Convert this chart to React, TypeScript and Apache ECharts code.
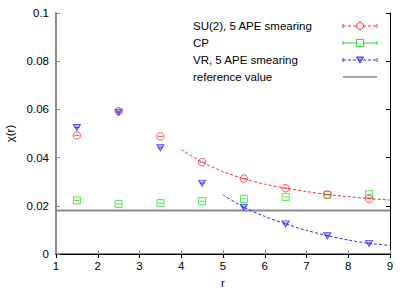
import React, { useEffect, useRef } from "react";
import * as echarts from "echarts";

const rValues = [1.5, 2.5, 3.5, 4.5, 5.5, 6.5, 7.5, 8.5];
const su2Values = [0.0492, 0.0592, 0.0488, 0.0381, 0.0313, 0.0273, 0.0247, 0.0229];
const cpValues = [0.0222, 0.0208, 0.0211, 0.0219, 0.0229, 0.0237, 0.0245, 0.0248];
const vrValues = [0.0525, 0.0588, 0.0441, 0.0294, 0.0194, 0.0125, 0.0076, 0.0044];
const referenceValue = 0.018;
const referenceRange = [1, 9];

const su2FitR = [4, 4.5, 5, 5.5, 6, 6.5, 7, 7.5, 8, 8.5, 9];
const su2FitValues = [0.0434, 0.0381, 0.0342, 0.0312, 0.029, 0.0273, 0.0259, 0.0247, 0.0238, 0.023, 0.0224];
const vrFitR = [5, 5.5, 6, 6.5, 7, 7.5, 8, 8.5, 9];
const vrFitValues = [0.0245, 0.0194, 0.0156, 0.0125, 0.0098, 0.0076, 0.0058, 0.0044, 0.0035];

const legendLabels = ["SU(2), 5 APE smearing", "CP", "VR, 5 APE smearing", "reference value"];
const xAxisTitle = "r";
const yAxisTitle = "χ(r)";

const RED = "#ff2a2a";
const GREEN = "#22e022";
const BLUE = "#2a2aff";
const GRAY = "#8a8a8a";
const FONT = "Liberation Sans";
const FS = 11.5;

const pairs = (xs: number[], ys: number[]) => xs.map((x, i) => [x, ys[i]]);

export default function App() {
  const ref = useRef<HTMLDivElement>(null);
  useEffect(() => {
    if (!ref.current) return;
    const chart = echarts.init(ref.current, null, { renderer: "svg" });

    const legendTop = [26, 43, 60, 77];
    const lx0 = 343;
    const lx1 = 377;
    const lxm = 360;
    const legendGraphics: any[] = [];
    legendLabels.forEach((label, i) => {
      legendGraphics.push({
        type: "text",
        x: 193,
        y: legendTop[i],
        style: {
          text: label,
          fontSize: FS,
          fontFamily: FONT,
          fill: "#000",
          verticalAlign: "middle",
          align: "left",
        },
      });
    });
    const sampleColors = [RED, GREEN, BLUE];
    const sampleDash: any[] = [[3, 2], null, [3, 2]];
    sampleColors.forEach((c, i) => {
      const y = legendTop[i];
      legendGraphics.push({
        type: "line",
        shape: { x1: lx0, y1: y, x2: lx1, y2: y },
        style: { stroke: c, lineWidth: 1, lineDash: sampleDash[i] || undefined },
      });
      legendGraphics.push({ type: "line", shape: { x1: lx0, y1: y - 2, x2: lx0, y2: y + 2 }, style: { stroke: c, lineWidth: 1 } });
      legendGraphics.push({ type: "line", shape: { x1: lx1, y1: y - 2, x2: lx1, y2: y + 2 }, style: { stroke: c, lineWidth: 1 } });
    });
    legendGraphics.push({ type: "circle", shape: { cx: lxm, cy: legendTop[0], r: 3.5 }, style: { fill: "#fff", stroke: RED, lineWidth: 1 } });
    legendGraphics.push({ type: "rect", shape: { x: lxm - 3.5, y: legendTop[1] - 3.5, width: 7, height: 7 }, style: { fill: "#fff", stroke: GREEN, lineWidth: 1 } });
    legendGraphics.push({
      type: "polygon",
      shape: { points: [[lxm - 3.5, legendTop[2] - 3], [lxm + 3.5, legendTop[2] - 3], [lxm, legendTop[2] + 3]] },
      style: { fill: "rgba(42,42,255,0.4)", stroke: BLUE, lineWidth: 1 },
    });
    legendGraphics.push({ type: "line", shape: { x1: lx0, y1: legendTop[3], x2: lx1, y2: legendTop[3] }, style: { stroke: GRAY, lineWidth: 1.5 } });

    const baseAxis = { axisLabel: { show: false }, splitLine: { show: false } };

    chart.setOption({
      animation: false,
      backgroundColor: "#fff",
      textStyle: { fontFamily: FONT },
      grid: { left: 56, right: 21, top: 13, bottom: 34, containLabel: false, outerBoundsMode: "none" },
      xAxis: [
        {
          type: "value",
          min: 1,
          max: 9,
          interval: 1,
          name: xAxisTitle,
          nameLocation: "middle",
          nameGap: 21,
          nameTextStyle: { fontSize: FS, color: "#000", fontFamily: FONT },
          axisLine: { lineStyle: { color: GRAY, width: 2 } },
          axisTick: { inside: true, length: 4, lineStyle: { color: GRAY } },
          axisLabel: { fontSize: FS, color: "#000", margin: 6, fontFamily: FONT },
          splitLine: { show: false },
        },
        {
          ...baseAxis,
          type: "value",
          position: "top",
          min: 1,
          max: 9,
          interval: 1,
          axisLine: { lineStyle: { color: "#000", width: 1 } },
          axisTick: { inside: true, length: 4, lineStyle: { color: "#000" } },
        },
      ],
      yAxis: [
        {
          type: "value",
          min: 0,
          max: 0.1,
          interval: 0.02,
          name: yAxisTitle,
          nameLocation: "middle",
          nameGap: 40,
          nameTextStyle: { fontSize: FS, color: "#000", fontFamily: FONT },
          axisLine: { show: true, lineStyle: { color: GRAY, width: 2 } },
          axisTick: { show: true, inside: true, length: 4, lineStyle: { color: GRAY } },
          axisLabel: { fontSize: FS, color: "#000", margin: 7, fontFamily: FONT },
          splitLine: { show: false },
        },
        {
          ...baseAxis,
          type: "value",
          position: "right",
          min: 0,
          max: 0.1,
          interval: 0.02,
          axisLine: { show: true, lineStyle: { color: "#000", width: 1 } },
          axisTick: { show: true, inside: true, length: 4, lineStyle: { color: "#000" } },
        },
      ],
      graphic: legendGraphics,
      series: [
        {
          type: "line",
          data: pairs(referenceRange, [referenceValue, referenceValue]),
          symbol: "none",
          lineStyle: { color: GRAY, width: 2 },
          z: 1,
        },
        {
          type: "line",
          data: pairs(su2FitR, su2FitValues),
          symbol: "none",
          smooth: 0.3,
          lineStyle: { color: RED, width: 1, type: [3, 2] },
          z: 2,
        },
        {
          type: "line",
          data: pairs(vrFitR, vrFitValues),
          symbol: "none",
          smooth: 0.3,
          lineStyle: { color: BLUE, width: 1, type: [3, 2] },
          z: 2,
        },
        {
          type: "scatter",
          data: pairs(rValues, cpValues),
          symbol: "rect",
          symbolSize: 7,
          itemStyle: { color: "rgba(255,255,255,0)", borderColor: GREEN, borderWidth: 1 },
          z: 3,
        },
        {
          type: "scatter",
          data: pairs(rValues, cpValues),
          symbol: "rect",
          symbolSize: [5, 1],
          itemStyle: { color: GREEN },
          z: 3,
        },
        {
          type: "scatter",
          data: pairs(rValues, su2Values),
          symbol: "circle",
          symbolSize: 7.5,
          itemStyle: { color: "rgba(255,255,255,0)", borderColor: RED, borderWidth: 1 },
          z: 4,
        },
        {
          type: "scatter",
          data: pairs(rValues, su2Values),
          symbol: "rect",
          symbolSize: [5, 1],
          itemStyle: { color: RED },
          z: 4,
        },
        {
          type: "scatter",
          data: pairs(rValues, vrValues),
          symbol: "triangle",
          symbolRotate: 180,
          symbolSize: [7, 6],
          itemStyle: { color: "rgba(42,42,255,0.4)", borderColor: BLUE, borderWidth: 1 },
          z: 5,
        },
        {
          type: "scatter",
          data: pairs(rValues, vrValues),
          symbol: "rect",
          symbolSize: [5, 1],
          itemStyle: { color: BLUE },
          z: 5,
        },
      ],
    });
    return () => chart.dispose();
  }, []);
  return <div ref={ref} style={{ position: "absolute", left: 0, top: 0, width: 411, height: 288 }} />;
}
